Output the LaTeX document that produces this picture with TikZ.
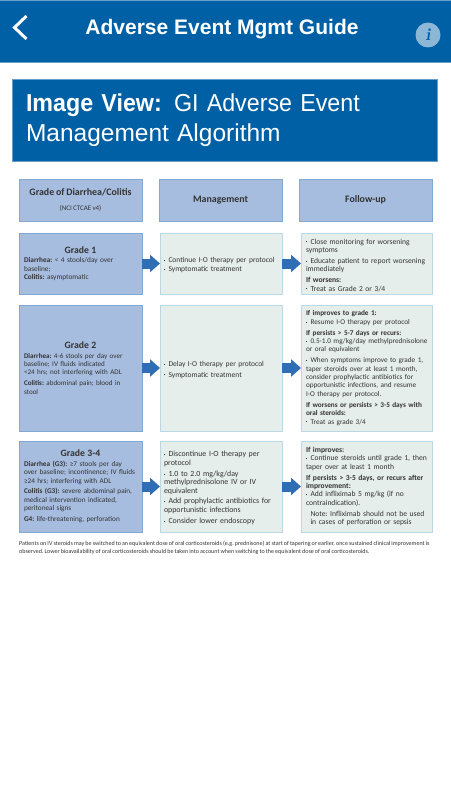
\documentclass[tikz,border=0pt]{standalone}
\usepackage{fontspec}
\setmainfont[WordSpace=0.8]{Carlito}
\newfontfamily\appfont{Liberation Sans}
\newfontfamily\appnarrow[FakeStretch=0.95]{Liberation Sans}
\usetikzlibrary{arrows.meta,positioning}

\definecolor{appblue}{HTML}{0060A6}
\definecolor{gradefill}{HTML}{A6BDDF}
\definecolor{gradeline}{HTML}{7FA8D3}
\definecolor{actionfill}{HTML}{E5EEEB}
\definecolor{actionline}{HTML}{BCD7E6}
\definecolor{arrowblue}{HTML}{2F6DB5}
\definecolor{inktext}{HTML}{333333}

\newcommand{\bodysize}[1]{\fontsize{#1}{8.4}\selectfont\frenchspacing\hyphenpenalty=10000\exhyphenpenalty=10000}
\newcommand{\headsize}{\fontsize{9.9}{11}\selectfont\bfseries}
\newcommand{\gradetitle}[1]{\makebox[\hsize]{\fontsize{9.7}{11}\selectfont\bfseries #1}\par\vspace{1pt}}
\newcommand{\bitem}[1]{\par\hangindent=4.5pt\hangafter=1\noindent\makebox[4.5pt][l]{\raisebox{1.6pt}{\rule{1pt}{1pt}}}#1\par}
\newcommand{\gap}{\vspace{2.5pt}}

\begin{document}
\begin{tikzpicture}[
    x=1pt, y=1pt,
    % Define styles for different types of blocks
    headbox/.style={
        rectangle,
        draw=gradeline,
        fill=gradefill,
        text=inktext,
        align=center,
        outer sep=0pt,
        minimum height=42pt,
        minimum width=123pt
    },
    gradebox/.style={
        rectangle,
        draw=gradeline,
        fill=gradefill,
        text=inktext,
        align=left,
        outer sep=0pt,
        inner xsep=5pt,
        inner ysep=0pt,
        text width=113pt,
        minimum height=#1
    },
    actionbox/.style={
        rectangle,
        draw=actionline,
        fill=actionfill,
        text=inktext,
        align=left,
        outer sep=0pt,
        inner xsep=4pt,
        inner ysep=0pt,
        text width=114pt,
        minimum height=#1
    },
    followbox/.style={
        actionbox=#1,
        inner xsep=5pt,
        text width=121pt
    },
    line/.style={
        draw=arrowblue,
        line width=10pt,
        -{Triangle[length=10pt,width=17pt]}
    }
]
\useasboundingbox (0,0) rectangle (450,-800);

% Place the app header
\node[rectangle, fill=appblue, draw=appblue!60, outer sep=0pt, minimum width=452pt, minimum height=62pt, anchor=north west] (topbar) at (-1,0) {};
\node[text=white, font=\appfont\bfseries\fontsize{21}{26}\selectfont] (apptitle) at (222,-29) {Adverse Event Mgmt Guide};
\node[circle, fill=white!55!appblue, text=appblue, inner sep=0pt, minimum size=25pt, font=\fontfamily{lmr}\fontsize{17}{17}\selectfont\bfseries\itshape] (infobtn) at (428,-35) {i};
\draw[white, line width=3pt] (26.5,-16) -- (14.5,-27.5) -- (26.5,-39);

% Place the title banner
\node[rectangle, fill=appblue, draw=appblue!60, outer sep=0pt, anchor=north west, minimum width=425pt, minimum height=82pt, inner xsep=13.5pt, inner ysep=0pt, text width=398pt, align=left, text=white, font=\appfont\fontsize{24.5}{29.5}\selectfont] (banner) at (12.5,-79) {{\appnarrow\textbf{Image View:} GI Adverse Event}\\Management Algorithm};

% Place the column heads
\node[headbox, anchor=north west] (gradehead) at (19,-179) {{\headsize Grade of Diarrhea/Colitis}\\[3pt]{\fontsize{7}{8}\selectfont (NCI CTCAE v4)}};
\node[headbox, right=17pt of gradehead] (mgmthead) {\headsize Management};
\node[headbox, right=17pt of mgmthead, minimum width=133pt] (followhead) {\headsize Follow-up};

% Place the grade blocks
\node[gradebox=61pt, below=12pt of gradehead, font=\bodysize{7.3}] (gradeone) {\gradetitle{Grade 1}
\textbf{Diarrhea:} < 4 stools/day over\\baseline;\\\textbf{Colitis:} asymptomatic};
\node[gradebox=126pt, below=11pt of gradeone, font=\bodysize{7.1}] (gradetwo) {\gradetitle{Grade 2}
\textbf{Diarrhea:} 4-6 stools per day over\\baseline; IV fluids indicated\\<24 hrs; not interfering with ADL\par\gap
\textbf{Colitis:} abdominal pain; blood in\\stool};
\node[gradebox=91pt, below=10pt of gradetwo, font=\bodysize{7.25}] (gradethree) {\gradetitle{Grade 3-4}
\textbf{Diarrhea (G3):} ≥7 stools per day\\over baseline; incontinence; IV fluids\\≥24 hrs; interfering with ADL\par\gap
\textbf{Colitis (G3):} severe abdominal pain,\\medical intervention indicated,\\peritoneal signs\par\gap
\textbf{G4:} life-threatening, perforation};

% Place the management blocks
\node[actionbox=61pt, right=18pt of gradeone, font=\bodysize{7.5}] (mgmtone) {\bitem{Continue I-O therapy per protocol}\bitem{Symptomatic treatment}};
\node[actionbox=126pt, right=18pt of gradetwo, font=\bodysize{7.5}] (mgmttwo) {\bitem{Delay I-O therapy per protocol}\gap\bitem{Symptomatic treatment}};
\node[actionbox=91pt, right=18pt of gradethree, font=\bodysize{7.9}] (mgmtthree) {\bitem{Discontinue I-O therapy per\\protocol}\gap
\bitem{1.0 to 2.0 mg/kg/day\\methylprednisolone IV or IV\\equivalent}\gap
\bitem{Add prophylactic antibiotics for\\opportunistic infections}\gap
\bitem{Consider lower endoscopy}};

% Place the follow-up blocks
\node[followbox=61pt, right=19pt of mgmtone, font=\bodysize{7.6}] (followone) {\bitem{Close monitoring for worsening\\symptoms}\gap
\bitem{Educate patient to report worsening\\immediately}\gap
\textbf{If worsens:}\bitem{Treat as Grade 2 or 3/4}};
\node[followbox=126pt, right=19pt of mgmttwo, font=\bodysize{7.25}] (followtwo) {\textbf{If improves to grade 1:}\bitem{Resume I-O therapy per protocol}\gap
\textbf{If persists > 5-7 days or recurs:}\bitem{\mbox{0.5-1.0 mg/kg/day methylprednisolone}\\or oral equivalent}\gap
\bitem{When symptoms improve to grade 1,\\taper steroids over at least 1 month,\\consider prophylactic antibiotics for\\opportunistic infections, and resume\\I-O therapy per protocol.}\gap
\textbf{If worsens or persists > 3-5 days with\\oral steroids:}\bitem{Treat as grade 3/4}};
\node[followbox=91pt, right=19pt of mgmtthree, font=\bodysize{7.6}] (followthree) {\textbf{If improves:}\bitem{Continue steroids until grade 1, then\\taper over at least 1 month}\gap
\textbf{If persists > 3-5 days, or recurs after\\improvement:}\bitem{Add infliximab 5 mg/kg (if no\\contraindication).}\gap
\hspace*{4.5pt}Note: Infliximab should not be used\\\hspace*{4.5pt}in cases of perforation or sepsis};

% Place the footnote
\node[anchor=north west, inner sep=0pt, text=inktext, align=left, font=\fontsize{6.05}{8}\selectfont\frenchspacing] (footnote) at ([yshift=-9pt]gradethree.south west) {Patients on IV steroids may be switched to an equivalent dose of oral corticosteroids (e.g. prednisone) at start of tapering or earlier, once sustained clinical improvement is\\observed. Lower bioavailability of oral corticosteroids should be taken into account when switching to the equivalent dose of oral corticosteroids.};

% Draw the connections
\draw[line] (gradeone) -- (mgmtone);
\draw[line] (mgmtone) -- (followone);
\draw[line] (gradetwo) -- (mgmttwo);
\draw[line] (mgmttwo) -- (followtwo);
\draw[line] (gradethree) -- (mgmtthree);
\draw[line] (mgmtthree) -- (followthree);

\end{tikzpicture}
\end{document}
